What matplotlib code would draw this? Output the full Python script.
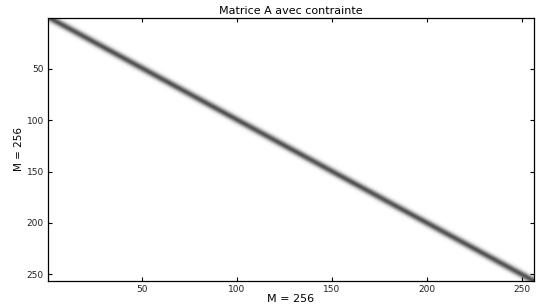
import numpy as np
import matplotlib
matplotlib.use("Agg")
import matplotlib.pyplot as plt

# Matrix size and band profile (value vs. distance from the diagonal)
N = 256
band_offsets = [0, 1, 2, 3, 4, 5, 6, 7]
band_values = [0.70, 0.63, 0.50, 0.34, 0.19, 0.09, 0.04, 0.012]
tick_values = [50, 100, 150, 200, 250]

plt.rcParams["font.family"] = ["DejaVu Sans"]

# Build the banded matrix from the profile
A = np.zeros((N, N))
idx = np.arange(N)
for off, val in zip(band_offsets, band_values):
    rows = idx[: N - off]
    A[rows, rows + off] = val
    A[rows + off, rows] = val

fig = plt.figure(figsize=(5.37, 3.08), dpi=100)
ax = fig.add_axes([0.0894, 0.0877, 0.905, 0.854])
ax.imshow(A, cmap="gray_r", vmin=0, vmax=1, aspect="auto",
          interpolation="bilinear", extent=(0.5, N + 0.5, N + 0.5, 0.5))

ax.set_xticks(tick_values)
ax.set_yticks(tick_values)
ax.tick_params(direction="in", length=3, width=0.8, labelsize=6.5,
               top=True, right=True, pad=3, labelcolor="#222222")
for s in ax.spines.values():
    s.set_linewidth(0.9)

ax.set_title("Matrice A avec contrainte", fontsize=8, pad=3)
ax.set_xlabel("M = 256", fontsize=8, labelpad=0)
ax.set_ylabel("M = 256", fontsize=7.5, labelpad=2)

fig.savefig("out.png", dpi=100)
